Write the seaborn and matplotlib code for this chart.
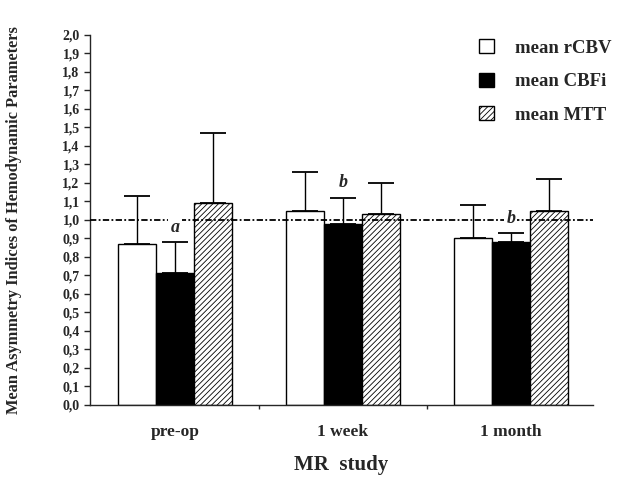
import matplotlib
matplotlib.use("Agg")
import matplotlib.pyplot as plt
from matplotlib.patches import Patch
from matplotlib.ticker import FuncFormatter, MultipleLocator, FixedLocator
import seaborn as sns
import pandas as pd

# values
studies = ["pre-op", "1 week", "1 month"]
params = ["mean rCBV", "mean CBFi", "mean MTT"]
rcbv_mean = [0.87, 1.05, 0.90]
rcbv_sd = [0.26, 0.21, 0.18]
cbfi_mean = [0.71, 0.98, 0.88]
cbfi_sd = [0.17, 0.14, 0.05]
mtt_mean = [1.09, 1.03, 1.05]
mtt_sd = [0.38, 0.17, 0.17]
notes = [("a", 0, 1, 0.96), ("b", 1, 1, 1.20), ("b", 2, 1, 1.01)]

rows = []
for p, means, sds in zip(params, [rcbv_mean, cbfi_mean, mtt_mean], [rcbv_sd, cbfi_sd, mtt_sd]):
    for s, m, sd in zip(studies, means, sds):
        rows.append({"study": s, "param": p, "value": m, "sd": sd})
df = pd.DataFrame(rows)

sns.set_style("ticks")
plt.rcParams["font.family"] = ["Liberation Serif", "DejaVu Serif"]
plt.rcParams["font.weight"] = "bold"
plt.rcParams["hatch.linewidth"] = 0.6

fig = plt.figure(figsize=(6.21, 4.79), dpi=100)
ax = fig.add_axes([0.145, 0.155, 0.81, 0.772])

sns.barplot(data=df, x="study", y="value", hue="param", order=studies, hue_order=params,
            palette=["white", "black", "white"], edgecolor="black", linewidth=1.0,
            width=0.68, errorbar=None, legend=False, ax=ax, zorder=2)

# bar patches come out grouped by hue
bars = [b for b in ax.patches if b.get_height() > 0]
for i, b in enumerate(bars):
    p = params[i // len(studies)]
    s = studies[i % len(studies)]
    row = df[(df.param == p) & (df.study == s)].iloc[0]
    if p == "mean MTT":
        b.set_hatch("//////")
    xc = b.get_x() + b.get_width() / 2
    ax.errorbar(xc, row.value, yerr=[[0], [row.sd]], fmt="none", ecolor="black",
                elinewidth=1.0, capsize=9.5, capthick=1.3, zorder=1)

ax.axhline(1.0, color="black", linestyle=(0, (3.5, 1.3, 1, 1.3)), linewidth=1.3, zorder=3)

for txt, gi, hi, yv in notes:
    xpos = gi + (hi - 1) * 0.68 / 3
    ax.text(xpos, yv, txt, ha="center", va="center", fontsize=13, style="italic",
            fontweight="bold", zorder=4,
            bbox=dict(facecolor="white", edgecolor="none", pad=1.5))

ax.set_ylim(0, 2.0)
ax.set_xlim(-0.506, 2.49)
ax.yaxis.set_major_locator(MultipleLocator(0.1))
ax.yaxis.set_major_formatter(FuncFormatter(lambda v, pos: f"{v:.1f}".replace(".", ",")))
ax.tick_params(axis="y", labelsize=10, length=4, width=1, direction="out")
ax.xaxis.set_minor_locator(FixedLocator([0.5, 1.5]))
ax.tick_params(axis="x", which="major", length=0, labelsize=12.5, pad=14)
ax.tick_params(axis="x", which="minor", length=3, width=1, direction="out")
for lab in ax.get_xticklabels() + ax.get_yticklabels():
    lab.set_fontweight("bold")

ax.set_xlabel("MR  study", fontsize=15, fontweight="bold", labelpad=11)
ax.set_ylabel("Mean Asymmetry Indices of Hemodynamic Parameters", fontsize=11.8,
              fontweight="bold", labelpad=29)
sns.despine(ax=ax)
for sp in ["left", "bottom"]:
    ax.spines[sp].set_linewidth(1.0)

handles = [Patch(facecolor="white", edgecolor="black"),
           Patch(facecolor="black", edgecolor="black"),
           Patch(facecolor="white", edgecolor="black", hatch="//////")]
ax.legend(handles, params, loc="upper right", bbox_to_anchor=(1.07, 1.035), frameon=False,
          prop={"size": 13.5, "weight": "bold"}, handlelength=0.8, handleheight=0.8,
          labelspacing=0.85, handletextpad=1.1)

fig.savefig("out.png", dpi=100)
